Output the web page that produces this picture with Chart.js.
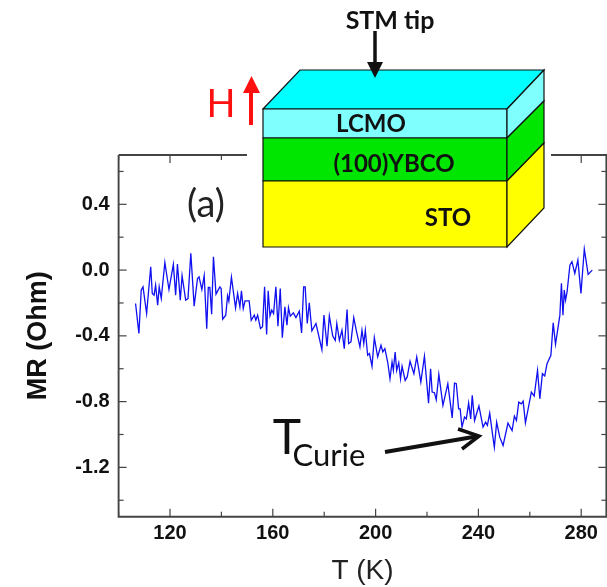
<!DOCTYPE html>
<html>
<head>
<meta charset="utf-8">
<title>MR vs T</title>
<script src="https://cdn.jsdelivr.net/npm/chart.js@4/dist/chart.umd.min.js"></script>
<style>
  html, body { margin: 0; padding: 0; background: #fff; }
  canvas { display: block; }
</style>
</head>
<body>
<canvas id="myChart" width="607" height="587"></canvas>
<script>
const temperature = [106.6,107.9,108.8,109.5,110.9,112.5,113.1,113.8,114.4,115.2,115.8,116.6,118.0,119.6,121.3,122.2,122.9,124.0,124.7,126.1,127.0,128.1,129.4,130.7,131.3,132.4,133.3,134.3,134.9,135.5,136.2,136.9,137.9,139.4,139.9,140.5,141.7,142.4,142.9,143.9,145.5,146.3,147.2,147.8,148.5,149.2,150.8,151.6,152.8,153.4,154.1,155.2,156.0,156.8,157.6,158.2,158.9,159.6,160.3,161.2,162.0,162.9,163.7,164.7,165.5,166.1,166.8,168.0,169.0,170.3,171.2,172.0,172.6,173.4,174.2,175.2,176.8,179.1,179.9,181.1,182.0,183.3,184.3,184.9,185.9,186.9,187.8,188.9,189.5,190.4,191.5,192.6,193.9,194.7,195.4,196.0,196.9,197.6,198.6,199.5,200.8,202.1,202.8,203.6,204.7,205.6,206.4,206.9,207.6,208.2,209.0,209.7,210.3,211.5,212.3,213.4,214.9,216.0,217.6,219.0,220.6,221.4,222.0,222.9,223.6,224.6,226.2,228.1,229.8,230.7,231.4,232.3,232.9,233.6,234.6,235.3,236.2,237.0,237.6,238.5,240.2,241.8,242.8,243.5,244.4,245.3,246.2,247.1,248.3,249.6,251.5,253.1,254.0,254.8,255.7,256.7,257.4,258.3,260.6,261.7,263.0,263.9,264.9,265.8,266.7,268.2,269.1,270.0,271.7,272.3,272.9,273.4,273.9,274.5,275.6,276.4,277.5,278.7,279.9,281.2,282.7,284.3];
const resistance = [-0.203,-0.386,-0.122,-0.102,-0.264,0.020,-0.142,-0.152,-0.091,-0.213,-0.102,-0.173,0.047,-0.118,0.035,-0.152,0.037,-0.183,-0.034,-0.183,-0.173,0.102,-0.219,-0.051,-0.041,-0.118,-0.034,-0.356,-0.106,-0.106,-0.268,0.081,-0.146,-0.102,-0.112,-0.299,-0.274,-0.156,-0.189,-0.043,-0.230,-0.142,-0.224,-0.126,-0.234,-0.187,-0.187,-0.305,-0.274,-0.305,-0.274,-0.356,-0.345,-0.102,-0.392,-0.126,-0.278,-0.244,-0.264,-0.102,-0.341,-0.112,-0.411,-0.224,-0.335,-0.228,-0.280,-0.260,-0.289,-0.250,-0.382,-0.102,-0.102,-0.325,-0.199,-0.370,-0.325,-0.484,-0.274,-0.463,-0.278,-0.400,-0.427,-0.325,-0.427,-0.366,-0.478,-0.240,-0.447,-0.437,-0.289,-0.376,-0.467,-0.366,-0.447,-0.366,-0.518,-0.508,-0.585,-0.411,-0.528,-0.457,-0.498,-0.478,-0.559,-0.661,-0.559,-0.610,-0.498,-0.610,-0.563,-0.661,-0.585,-0.671,-0.650,-0.555,-0.630,-0.528,-0.681,-0.524,-0.809,-0.600,-0.742,-0.746,-0.789,-0.634,-0.823,-0.691,-0.899,-0.687,-0.691,-0.844,-0.844,-0.955,-0.894,-0.905,-0.809,-0.905,-0.762,-0.915,-0.827,-0.955,-0.925,-0.945,-0.870,-0.976,-1.078,-0.925,-1.016,-1.067,-0.931,-0.976,-0.888,-0.915,-0.803,-0.813,-0.797,-0.929,-0.742,-0.766,-0.610,-0.783,-0.630,-0.644,-0.569,-0.518,-0.321,-0.451,-0.274,-0.081,-0.274,-0.122,-0.183,-0.132,0.030,0.051,-0.020,0.061,-0.142,0.128,-0.026,0];

const xMajor = [120,160,200,240,280];
const xMinor = [100,140,180,220,260];
const yMajor = [-1.2,-0.8,-0.4,0.0,0.4];
const yMinor = [-1.4,-1.0,-0.6,-0.2,0.2,0.6];
const yTickLabels = ['-1.2','-0.8','-0.4','0.0','0.4'];

const axisColor = '#444';

function line(c, pts, color, w) {
  c.strokeStyle = color;
  c.lineWidth = w;
  c.beginPath();
  pts.forEach((p, i) => i ? c.lineTo(p[0], p[1]) : c.moveTo(p[0], p[1]));
  c.stroke();
}

function face(c, pts, fill) {
  c.fillStyle = fill;
  c.beginPath();
  pts.forEach((p, i) => i ? c.lineTo(p[0], p[1]) : c.moveTo(p[0], p[1]));
  c.closePath();
  c.fill();
  c.strokeStyle = '#111';
  c.lineWidth = 1.2;
  c.stroke();
}

function label(c, str, x, y, font, color) {
  c.font = font;
  c.fillStyle = color || '#111';
  c.textAlign = 'center';
  c.textBaseline = 'middle';
  c.fillText(str, x, y);
}

// frame and inward ticks, long on labelled values
const framePlugin = {
  id: 'frame',
  afterDraw(chart) {
    const c = chart.ctx, a = chart.chartArea;
    const xs = chart.scales.x, ys = chart.scales.y;
    c.save();
    line(c, [[a.left, a.top], [a.right, a.top], [a.right, a.bottom], [a.left, a.bottom], [a.left, a.top]], axisColor, 1.9);
    xMajor.forEach(v => {
      const p = xs.getPixelForValue(v);
      line(c, [[p, a.bottom], [p, a.bottom - 8]], axisColor, 1.2);
      line(c, [[p, a.top], [p, a.top + 8]], axisColor, 1.2);
    });
    xMinor.forEach(v => {
      const p = xs.getPixelForValue(v);
      line(c, [[p, a.bottom], [p, a.bottom - 5]], axisColor, 1.2);
      line(c, [[p, a.top], [p, a.top + 5]], axisColor, 1.2);
    });
    yMajor.forEach(v => {
      const p = ys.getPixelForValue(v);
      line(c, [[a.left, p], [a.left + 8, p]], axisColor, 1.2);
      line(c, [[a.right, p], [a.right - 8, p]], axisColor, 1.2);
    });
    yMinor.forEach(v => {
      const p = ys.getPixelForValue(v);
      line(c, [[a.left, p], [a.left + 5, p]], axisColor, 1.2);
      line(c, [[a.right, p], [a.right - 5, p]], axisColor, 1.2);
    });
    c.restore();
  }
};

// sample sketch pasted over the top of the plot, plus the annotations
const insetPlugin = {
  id: 'inset',
  afterDraw(chart) {
    const c = chart.ctx;
    c.save();
    c.fillStyle = '#fff';
    c.fillRect(247, 46, 304, 204);

    face(c, [[263,109],[300,70],[544,70],[507,109]], '#00ffff');
    face(c, [[263,109],[507,109],[507,138],[263,138]], '#80ffff');
    face(c, [[263,138],[507,138],[507,181],[263,181]], '#00e600');
    face(c, [[263,181],[507,181],[507,247],[263,247]], '#ffff00');
    face(c, [[507,109],[544,70],[544,101],[507,138]], '#80ffff');
    face(c, [[507,138],[544,101],[544,143],[507,181]], '#00e600');
    face(c, [[507,181],[544,143],[544,208],[507,247]], '#ffff00');

    const calibri = 'Lato, sans-serif';
    label(c, 'STM tip', 390, 21, 'bold 25px ' + calibri);
    label(c, 'LCMO', 371, 124, 'bold 24px ' + calibri);
    label(c, '(100)YBCO', 394, 164, 'bold 24px ' + calibri);
    label(c, 'STO', 448, 218, 'bold 24px ' + calibri);

    // tip arrow
    line(c, [[375, 31], [375, 65]], '#111', 3.5);
    c.fillStyle = '#111';
    c.beginPath();
    c.moveTo(367, 62); c.lineTo(383, 62); c.lineTo(375, 78);
    c.closePath(); c.fill();

    // field arrow
    label(c, 'H', 221, 105, '38px ' + calibri, '#ff1010');
    line(c, [[251, 125], [251, 88]], '#ff1010', 4);
    c.fillStyle = '#ff1010';
    c.beginPath();
    c.moveTo(243, 93); c.lineTo(260, 93); c.lineTo(251.5, 76);
    c.closePath(); c.fill();

    label(c, '(a)', 206, 205, '38px ' + calibri, '#222');
    label(c, 'T', 287, 439, '48px ' + calibri, '#111');
    label(c, 'Curie', 329, 456, '31px ' + calibri, '#111');

    line(c, [[385, 452], [479, 436]], '#111', 4);
    line(c, [[458, 429], [479, 436], [462, 449]], '#111', 3.5);
    c.restore();
  }
};

const ctx = document.getElementById('myChart');
const myChart = new Chart(ctx, {
  type: 'line',
  data: {
    datasets: [{
      data: temperature.map((t, i) => ({ x: t, y: resistance[i] })),
      borderColor: '#1010f0',
      borderWidth: 1.3,
      pointRadius: 0,
      tension: 0,
      fill: false
    }]
  },
  options: {
    responsive: false,
    animation: false,
    layout: { padding: { top: 155, left: 22, right: 0.6, bottom: 0 } },
    plugins: { legend: { display: false }, tooltip: { enabled: false } },
    scales: {
      x: {
        type: 'linear',
        min: 100,
        max: 289.8,
        afterBuildTicks: s => { s.ticks = xMajor.map(v => ({ value: v })); },
        afterFit: s => { s.height = 70.3; },
        grid: { display: false, drawTicks: false },
        border: { display: false },
        ticks: {
          autoSkip: false,
          maxRotation: 0,
          padding: 5,
          color: '#111',
          font: { family: '"Liberation Sans"', size: 20, weight: 'bold' }
        },
        title: {
          display: true,
          text: 'T (K)',
          color: '#222',
          padding: { top: 8, bottom: 0 },
          font: { family: '"Liberation Sans"', size: 28, weight: 'normal', lineHeight: 1.1 }
        }
      },
      y: {
        type: 'linear',
        min: -1.5,
        max: 0.7,
        afterBuildTicks: s => { s.ticks = yMajor.map(v => ({ value: v })); },
        afterFit: s => { s.width = 96.6; },
        grid: { display: false, drawTicks: false },
        border: { display: false },
        ticks: {
          autoSkip: false,
          padding: 9,
          color: '#111',
          font: { family: '"Liberation Sans"', size: 20, weight: 'bold' },
          callback: (v, i) => yTickLabels[i]
        },
        title: {
          display: true,
          text: 'MR (Ohm)',
          color: '#111',
          padding: 0,
          font: { family: '"Liberation Sans"', size: 27, weight: 'bold' }
        }
      }
    }
  },
  plugins: [framePlugin, insetPlugin]
});
</script>
</body>
</html>
